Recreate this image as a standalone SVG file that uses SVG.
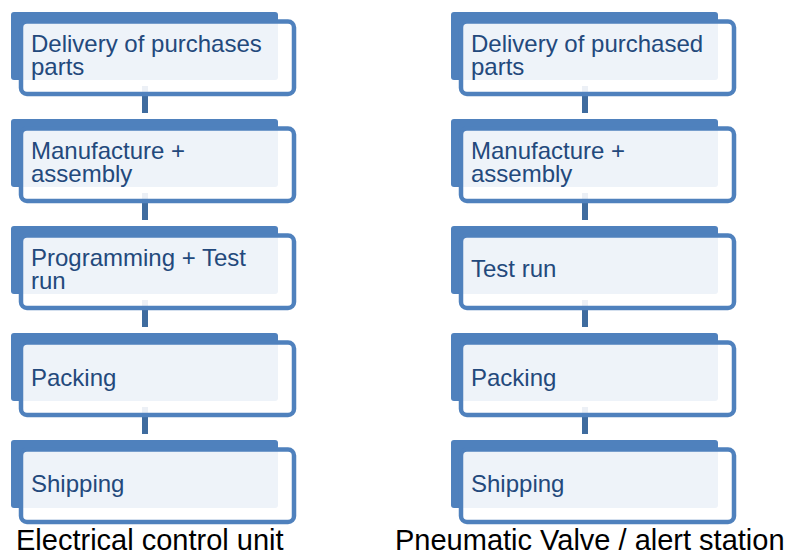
<svg xmlns="http://www.w3.org/2000/svg" width="797" height="552" viewBox="0 0 797 552">
<style>
.back{fill:#4F81BD;}
.front{fill:#FFFFFF;fill-opacity:0.9;stroke:#4F81BD;stroke-width:4.5;}
.lbl{font-family:"Liberation Sans",Arial,sans-serif;font-size:24px;fill:#23497C;}
.cap{font-family:"Liberation Sans",Arial,sans-serif;font-size:29px;fill:#000000;}
.conn{fill:#3F6C9F;}
</style>
<g id="connectors">
<rect class="conn" x="142" y="86" width="6" height="27"/>
<rect class="conn" x="142" y="193" width="6" height="27"/>
<rect class="conn" x="142" y="300" width="6" height="27"/>
<rect class="conn" x="142" y="407" width="6" height="27"/>
<rect class="conn" x="582" y="86" width="6" height="27"/>
<rect class="conn" x="582" y="193" width="6" height="27"/>
<rect class="conn" x="582" y="300" width="6" height="27"/>
<rect class="conn" x="582" y="407" width="6" height="27"/>
</g>
<g id="L1" transform="translate(0,12)">
<rect class="back" x="11" y="0" width="267" height="68" rx="3"/>
<rect class="front" x="21" y="9.5" width="273" height="72.5" rx="6"/>
<text class="lbl" x="31" y="39.7">Delivery of purchases</text>
<text class="lbl" x="31" y="63">parts</text>
</g>
<g id="L2" transform="translate(0,119)">
<rect class="back" x="11" y="0" width="267" height="68" rx="3"/>
<rect class="front" x="21" y="9.5" width="273" height="72.5" rx="6"/>
<text class="lbl" x="31" y="39.7">Manufacture +</text>
<text class="lbl" x="31" y="63">assembly</text>
</g>
<g id="L3" transform="translate(0,226)">
<rect class="back" x="11" y="0" width="267" height="68" rx="3"/>
<rect class="front" x="21" y="9.5" width="273" height="72.5" rx="6"/>
<text class="lbl" x="31" y="39.7">Programming + Test</text>
<text class="lbl" x="31" y="63">run</text>
</g>
<g id="L4" transform="translate(0,333)">
<rect class="back" x="11" y="0" width="267" height="68" rx="3"/>
<rect class="front" x="21" y="9.5" width="273" height="72.5" rx="6"/>
<text class="lbl" x="31" y="53">Packing</text>
</g>
<g id="L5" transform="translate(0,440)">
<rect class="back" x="11" y="0" width="267" height="68" rx="3"/>
<rect class="front" x="21" y="9.5" width="273" height="72.5" rx="6"/>
<text class="lbl" x="31" y="52">Shipping</text>
</g>
<g id="R1" transform="translate(440,12)">
<rect class="back" x="11" y="0" width="267" height="68" rx="3"/>
<rect class="front" x="21" y="9.5" width="273" height="72.5" rx="6"/>
<text class="lbl" x="31" y="39.7">Delivery of purchased</text>
<text class="lbl" x="31" y="63">parts</text>
</g>
<g id="R2" transform="translate(440,119)">
<rect class="back" x="11" y="0" width="267" height="68" rx="3"/>
<rect class="front" x="21" y="9.5" width="273" height="72.5" rx="6"/>
<text class="lbl" x="31" y="39.7">Manufacture +</text>
<text class="lbl" x="31" y="63">assembly</text>
</g>
<g id="R3" transform="translate(440,226)">
<rect class="back" x="11" y="0" width="267" height="68" rx="3"/>
<rect class="front" x="21" y="9.5" width="273" height="72.5" rx="6"/>
<text class="lbl" x="31" y="51">Test run</text>
</g>
<g id="R4" transform="translate(440,333)">
<rect class="back" x="11" y="0" width="267" height="68" rx="3"/>
<rect class="front" x="21" y="9.5" width="273" height="72.5" rx="6"/>
<text class="lbl" x="31" y="53">Packing</text>
</g>
<g id="R5" transform="translate(440,440)">
<rect class="back" x="11" y="0" width="267" height="68" rx="3"/>
<rect class="front" x="21" y="9.5" width="273" height="72.5" rx="6"/>
<text class="lbl" x="31" y="52">Shipping</text>
</g>
<g id="captions">
<text class="cap" x="16" y="550">Electrical control unit</text>
<text class="cap" x="395" y="550">Pneumatic Valve / alert station</text>
</g>
</svg>
